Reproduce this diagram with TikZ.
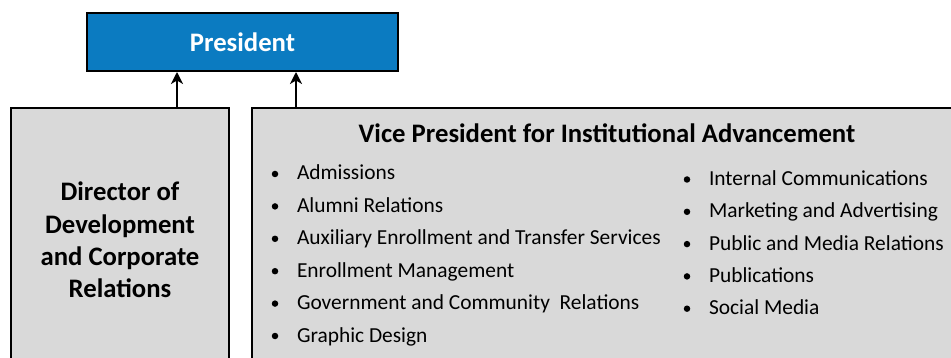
\documentclass[tikz,border=0pt]{standalone}
\usepackage{fontspec}
\setmainfont{Carlito}
\usetikzlibrary{arrows.meta}
\definecolor{presblue}{RGB}{11,123,193}
\definecolor{boxgrey}{RGB}{217,217,217}
\tikzset{every picture/.style={line width=2pt}}
\tikzset{
  box/.style={draw=black, rectangle, inner sep=0pt},
  headtext/.style={font=\fontsize{26.7}{32.4}\selectfont\bfseries},
  dot/.style={circle, fill=black, inner sep=0pt, minimum size=6.5pt},
  item/.style={anchor=base west, inner sep=0pt, text height=12pt, text depth=0pt,
    font=\fontsize{21.4}{25}\selectfont, label={[dot, label distance=16.75pt]left:{}}},
  arr/.style={-{Stealth[length=12pt, width=12pt, inset=3.5pt]}}
}

\begin{document}
\begin{tikzpicture}[x=1pt, y=-1pt]
  \useasboundingbox (0,0) rectangle (951,358);
  \clip (0,0) rectangle (951,358);
  % boxes
  \node[box, fill=presblue, minimum width=311pt, minimum height=58pt, anchor=north west,
        headtext, text=white] (pres) at (86,12) {President};
  \node[box, fill=boxgrey, minimum width=218pt, minimum height=264pt, anchor=north west,
        headtext, align=center] (dir) at (10,107) {Director of\\Development\\and Corporate\\Relations};
  \node[box, fill=boxgrey, minimum width=720pt, minimum height=280pt, anchor=north west] (vp) at (251,107) {};
  \node[headtext, anchor=base, inner sep=0pt] (vptitle) at (607,143) {Vice President for Institutional Advancement};
  % left column
  \node[item] (adm) at (296,180) {Admissions};
  \node[item] (alu) at (296,212.4) {Alumni Relations};
  \node[item] (aux) at (296,244.8) {Auxiliary Enrollment and Transfer Services};
  \node[item] (enr) at (296,277.2) {Enrollment Management};
  \node[item] (gov) at (296,309.6) {Government and Community\ \ Relations};
  \node[item] (gra) at (296,342) {Graphic Design};
  % right column
  \node[item] (int) at (708,185.5) {Internal Communications};
  \node[item] (mkt) at (708,217.8) {Marketing and Advertising};
  \node[item] (pub) at (708,250.1) {Public and Media Relations};
  \node[item] (pbl) at (708,282.4) {Publications};
  \node[item] (soc) at (708,314.7) {Social Media};
  % reporting lines
  \draw[arr] ([xshift=57pt]dir.north) -- ([xshift=57pt]dir.north |- pres.south);
  \draw[arr] ([xshift=45pt]vp.north west) -- ([xshift=45pt]vp.north west |- pres.south);
\end{tikzpicture}
\end{document}
